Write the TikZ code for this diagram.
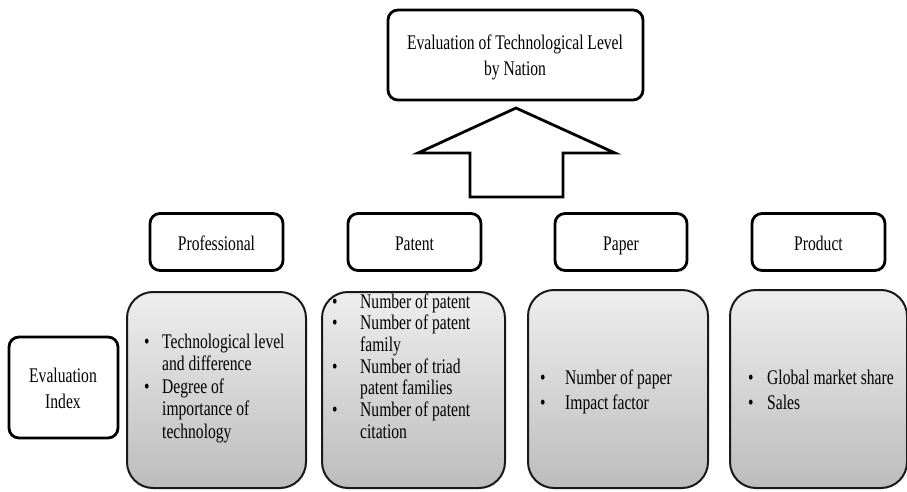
\documentclass[tikz,border=0pt]{standalone}
\usepackage{fontspec}
\setmainfont{Liberation Serif}[FakeStretch=0.75]
\definecolor{gtop}{RGB}{238,238,238}
\definecolor{gbot}{RGB}{188,188,188}
\tikzset{
  hdrbox/.style={draw=black, line width=2.8pt, rounded corners=10pt, fill=white, inner sep=0pt},
  bigbox/.style={draw=black!90, line width=2pt, rounded corners=26pt, top color=gtop, bottom color=gbot, inner sep=0pt},
  lbl/.style={font=\fontsize{20.8}{26}\selectfont, align=center, inner sep=0pt},
  lst/.style={inner sep=0pt, anchor=base west},
}
\newcommand{\blist}[3]{{\fontsize{20.8}{#2}\selectfont\renewcommand{\arraystretch}{1}%
\begin{tabular}[t]{@{}p{#1}@{}l@{}}#3\end{tabular}}}
\begin{document}
\begin{tikzpicture}[x=1pt,y=-1pt]
\useasboundingbox (0,0) rectangle (907,492);
% top box
\node[hdrbox, minimum width=255pt, minimum height=90pt] (top) at (515.5,55) {};
\node[lbl, anchor=base] (toptxt) at (515,50) {Evaluation of Technological Level};
\node[lbl, anchor=base] (toptxt2) at (515,76) {by Nation};
% arrow
\coordinate (tip) at (516,108);
\draw[line width=2.8pt, line join=miter, fill=white] (tip) -- (418,153) -- (470,153) -- (470,197) -- (563,197) -- (563,153) -- (615,153) -- cycle;
% headers
\node[hdrbox, minimum width=133pt, minimum height=57pt] (prof) at (216.5,242) {};
\node[lbl, anchor=base] (proft) at (216.5,250) {Professional};
\node[hdrbox, minimum width=133pt, minimum height=57pt] (pat) at (414.5,242) {};
\node[lbl, anchor=base] (patt) at (414.5,250) {Patent};
\node[hdrbox, minimum width=132pt, minimum height=57pt] (pap) at (621,242) {};
\node[lbl, anchor=base] (papt) at (621,250) {Paper};
\node[hdrbox, minimum width=133pt, minimum height=57pt] (prod) at (818.5,242) {};
\node[lbl, anchor=base] (prodt) at (818.5,250) {Product};
% evaluation index
\node[hdrbox, minimum width=109pt, minimum height=101pt] (evi) at (63.5,387.5) {};
\node[lbl, anchor=base] (evit) at (63,382) {Evaluation};
\node[lbl, anchor=base] (evit2) at (63,408.5) {Index};
% big boxes
\node[bigbox, minimum width=179pt, minimum height=196pt] (b1) at (216.5,390) {};
\node[bigbox, minimum width=183pt, minimum height=196pt] (b2) at (413.5,390) {};
\node[bigbox, minimum width=180pt, minimum height=198pt] (b3) at (618,389) {};
\node[bigbox, minimum width=177pt, minimum height=198pt] (b4) at (818.5,389) {};
% lists
\node[lst] (l1) at (144,348) {\blist{18pt}{22.5}{%
\textbullet & Technological level\\ & and difference\\
\textbullet & Degree of\\ & importance of\\ & technology}};
\node[lst] (l2) at (332,308) {\blist{28pt}{21.7}{%
\textbullet & Number of patent\\
\textbullet & Number of patent\\ & family\\
\textbullet & Number of triad\\ & patent families\\
\textbullet & Number of patent\\ & citation}};
\node[lst] (l3) at (540,384) {\blist{25pt}{25}{%
\textbullet & Number of paper\\
\textbullet & Impact factor}};
\node[lst] (l4) at (748,384) {\blist{19pt}{25}{%
\textbullet & Global market share\\
\textbullet & Sales}};
\end{tikzpicture}
\end{document}
